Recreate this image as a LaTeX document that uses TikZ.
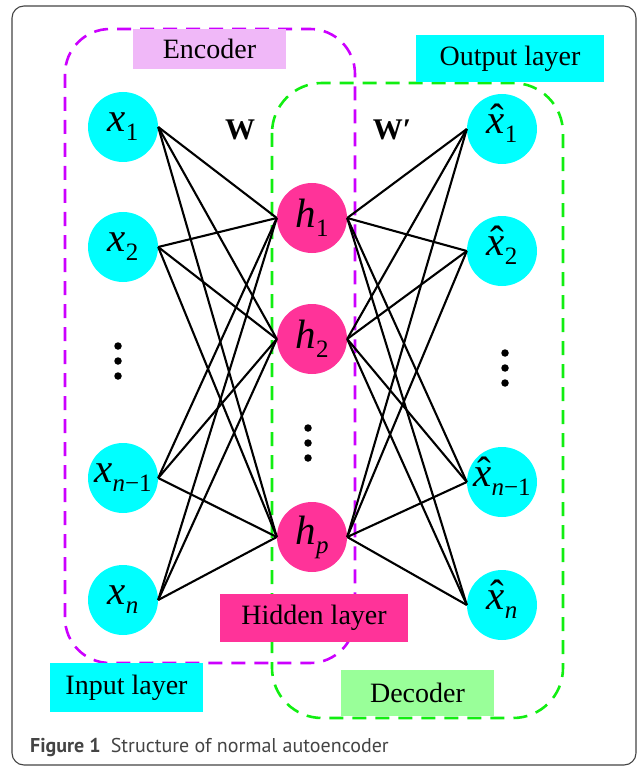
\documentclass[tikz,border=0pt]{standalone}
\usepackage{fontspec}
\setmainfont{Liberation Serif}
\newfontfamily\capfont{PT Sans}

\definecolor{unitcyan}{HTML}{00FFFF}
\definecolor{hidpink}{HTML}{FF3399}
\definecolor{encviolet}{HTML}{F0B8F8}
\definecolor{decgreen}{HTML}{99FF99}
\definecolor{encline}{HTML}{CC00FF}
\definecolor{decline}{HTML}{11EE11}
\definecolor{framegray}{HTML}{444444}

% variable with subscript, sized for the unit circles
\newcommand\unitvar[2]{{\fontsize{41}{41}\selectfont\itshape #1}\raisebox{-9pt}{\fontsize{25}{25}\selectfont #2}}
\newcommand\hatx{\ooalign{x\cr\hidewidth\raisebox{1pt}{\upshape\kern4pt ˆ}\hidewidth\cr}}

\begin{document}
\begin{tikzpicture}[x=1pt,y=-1pt,
  unit/.style={circle,minimum size=70pt,inner sep=0pt,draw=none},
  inunit/.style={unit,fill=unitcyan},
  hidunit/.style={unit,fill=hidpink},
  link/.style={line width=2.1pt,black},
  group/.style={line width=2.6pt,dash pattern=on 14pt off 9pt},
  tag/.style={inner sep=0pt,font=\fontsize{28}{28}\selectfont},
  vdot/.style={circle,fill=black,inner sep=0pt,minimum size=7.5pt}
]
\useasboundingbox (0,0) rectangle (637,767);

% outer frame
\draw[framegray,line width=1.1pt,rounded corners=12pt] (12,6) rectangle (636,765);

% encoder and decoder groupings
\draw[group,encline,rounded corners=45pt] (65,29) rectangle (355,663);
\draw[group,decline,rounded corners=50pt] (272,83) rectangle (563,718);

% input layer
\node[inunit] (x1) at (123,127) {\unitvar{x}{1}};
\node[inunit] (x2) at (123,247) {\unitvar{x}{2}};
\node[inunit] (xm) at (123,478) {\unitvar{x}{\textit{n}−1}};
\node[inunit] (xn) at (123,600) {\unitvar{x}{\textit{n}}};

% hidden layer
\node[hidunit] (h1) at (312,218) {\unitvar{h}{1}};
\node[hidunit] (h2) at (312,339) {\unitvar{h}{2}};
\node[hidunit] (hp) at (312,537) {\unitvar{h}{\textit{p}}};

% output layer
\node[inunit] (y1) at (502,129) {\unitvar{\hatx}{1}};
\node[inunit] (y2) at (502,251) {\unitvar{\hatx}{2}};
\node[inunit] (ym) at (502,482) {\unitvar{\hatx}{\textit{n}−1}};
\node[inunit] (yn) at (502,605) {\unitvar{\hatx}{\textit{n}}};

% ellipses between units
\foreach \c/\cx/\cy in {a/118/346, b/308/428, c/505/353}{
  \node[vdot] (\c1) at (\cx,\cy) {};
  \node[vdot] (\c2) at (\cx,\cy+15) {};
  \node[vdot] (\c3) at (\cx,\cy+30) {};
}

% weights
\foreach \i in {x1,x2,xm,xn}
  \foreach \j in {h1,h2,hp}
    \draw[link] (\i.east) -- (\j.west);
\foreach \j in {h1,h2,hp}
  \foreach \k in {y1,y2,ym,yn}
    \draw[link] (\j.east) -- (\k.west);

\node[font=\fontsize{30}{30}\selectfont\bfseries] (w) at (240,130) {W};
\node[font=\fontsize{30}{30}\selectfont\bfseries] (wp) at (392,130) {W′};

% layer and block labels
\fill[encviolet] (133,29) rectangle (286,69);
\node[tag] (enc) at (209.5,49) {Encoder};
\fill[unitcyan] (416,35) rectangle (604,82);
\node[tag] (outl) at (510,59) {Output layer};
\fill[hidpink] (220,594) rectangle (408,642);
\node[tag] (hidl) at (314,618) {Hidden layer};
\fill[unitcyan] (50,663) rectangle (203,712);
\node[tag] (inl) at (126.5,688) {Input layer};
\fill[decgreen] (341,670) rectangle (494,716);
\node[tag] (dec) at (417.5,693) {Decoder};

% caption
\node[anchor=base west,inner sep=0pt,text=framegray,font=\capfont\fontsize{20}{20}\selectfont] (cap) at (30,752)
  {\textbf{Figure 1}\hspace{10pt}Structure of normal autoencoder};
\end{tikzpicture}
\end{document}
